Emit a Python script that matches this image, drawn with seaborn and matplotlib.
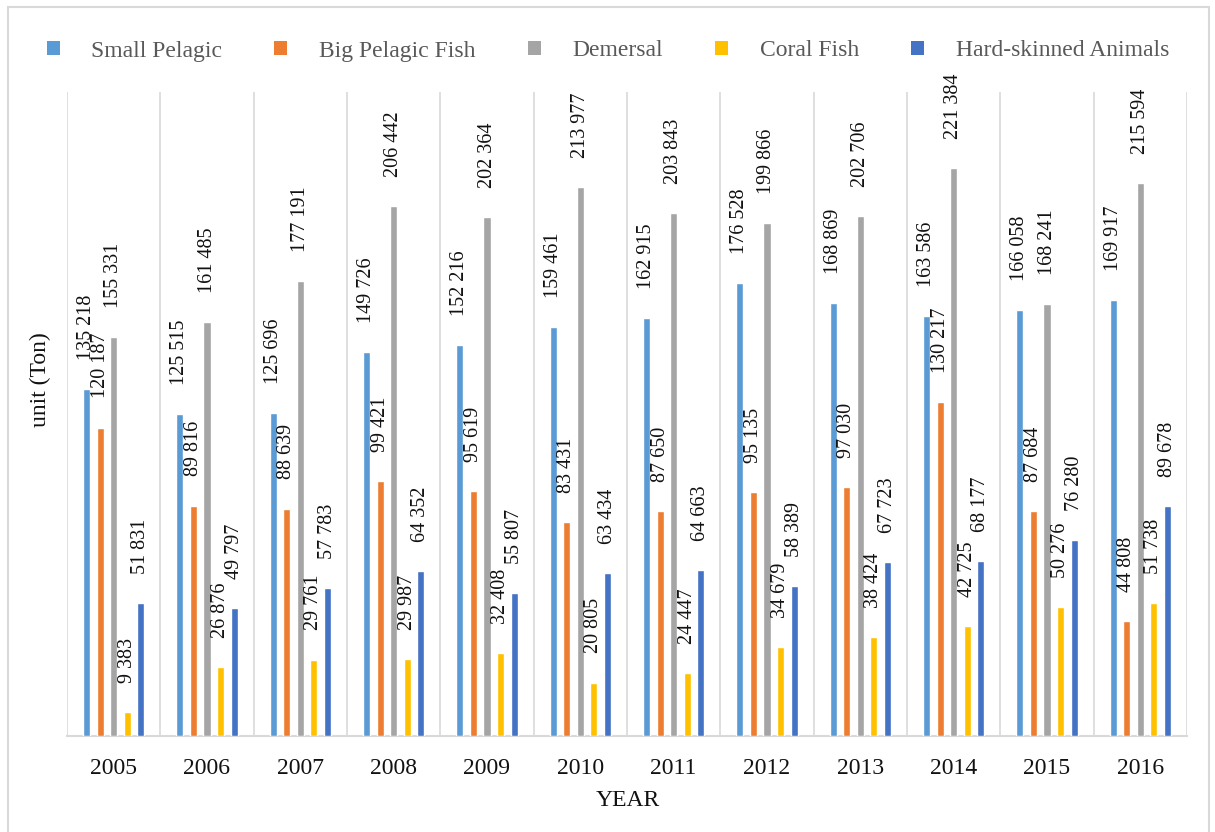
import numpy as np
import pandas as pd
import matplotlib
matplotlib.use("Agg")
import matplotlib.pyplot as plt
from matplotlib.patches import Patch, Rectangle
import seaborn as sns

# Annual catch by fish group (tonnes)
years = ["2005", "2006", "2007", "2008", "2009", "2010",
         "2011", "2012", "2013", "2014", "2015", "2016"]
series = ["Small Pelagic", "Big Pelagic Fish", "Demersal", "Coral Fish",
          "Hard-skinned Animals"]
small_pelagic = [135218, 125515, 125696, 149726, 152216, 159461,
                 162915, 176528, 168869, 163586, 166058, 169917]
big_pelagic = [120187, 89816, 88639, 99421, 95619, 83431,
               87650, 95135, 97030, 130217, 87684, 44808]
demersal = [155331, 161485, 177191, 206442, 202364, 213977,
            203843, 199866, 202706, 221384, 168241, 215594]
coral = [9383, 26876, 29761, 29987, 32408, 20805,
         24447, 34679, 38424, 42725, 50276, 51738]
hard_skinned = [51831, 49797, 57783, 64352, 55807, 63434,
                64663, 58389, 67723, 68177, 76280, 89678]
colors = ["#5B9BD5", "#ED7D31", "#A5A5A5", "#FFC000", "#4472C4"]

values = [small_pelagic, big_pelagic, demersal, coral, hard_skinned]
df = pd.DataFrame({
    "year": np.tile(years, len(series)),
    "group": np.repeat(series, len(years)),
    "catch": np.concatenate(values),
})

sns.set_style("white")
plt.rcParams["font.family"] = ["Liberation Serif", "DejaVu Serif"]

fig = plt.figure(figsize=(12.15, 8.32), dpi=100)
ax = fig.add_axes([67 / 1215, 96 / 832, 1120 / 1215, 644 / 832])

sns.barplot(data=df, x="year", y="catch", hue="group", order=years,
            hue_order=series, palette=colors, width=0.725, gap=0.48,
            saturation=1, ax=ax, legend=False, zorder=3)

# value labels, rotated above each bar
for cont, vals in zip(ax.containers, values):
    for bar, v in zip(cont, vals):
        ax.annotate(f"{v:,}".replace(",", " "),
                    xy=(bar.get_x() + bar.get_width() / 2, bar.get_height()),
                    xytext=(0, 21), textcoords="offset points",
                    rotation=90, ha="center", va="bottom",
                    fontsize=14.5, color="#111111", zorder=4)

ax.set_ylim(0, 251000)
ax.set_xlim(-0.5, len(years) - 0.5)
for x in np.arange(-0.5, len(years), 1.0):
    ax.axvline(x, color="#D9D9D9", lw=1.2, zorder=0)

for side in ["top", "right", "left"]:
    ax.spines[side].set_visible(False)
ax.spines["bottom"].set_color("#D9D9D9")
ax.spines["bottom"].set_linewidth(1.5)
ax.set_yticks([])
ax.tick_params(axis="x", length=0, pad=16, labelsize=17, labelcolor="#111111")
ax.set_xlabel("")
ax.set_ylabel("")

fig.text(628 / 1215, 1 - 801 / 832, "YEAR", ha="center", va="center",
         fontsize=17, color="#111111")
fig.text(40 / 1215, 1 - 380 / 832, "unit (Ton)", rotation=90,
         ha="center", va="center", fontsize=17, color="#111111")

handles = [Patch(facecolor=c, edgecolor="none") for c in colors]
fig.legend(handles, series, loc="center", bbox_to_anchor=(608 / 1215, 1 - 51 / 832),
           ncol=5, frameon=False, fontsize=17, labelcolor="#595959",
           handlelength=0.55, handleheight=0.55, handletextpad=1.35,
           columnspacing=2.2)

fig.patches.append(Rectangle((8 / 1215, -0.02), 1201 / 1215, 1.02 - 7 / 832,
                             transform=fig.transFigure, fill=False,
                             edgecolor="#D9D9D9", lw=1.5))

fig.savefig("out.png", dpi=100)
